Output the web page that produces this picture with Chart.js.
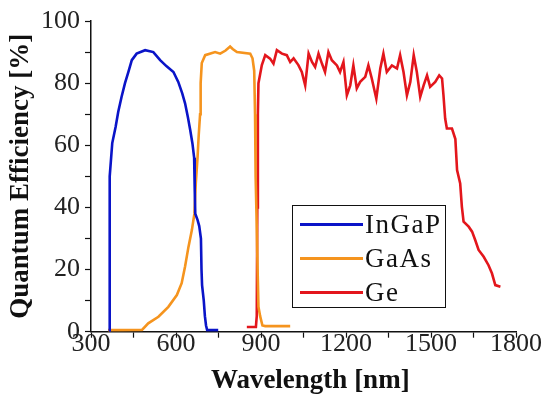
<!DOCTYPE html>
<html>
<head>
<meta charset="utf-8">
<script src="https://cdn.jsdelivr.net/npm/chart.js@4/dist/chart.umd.min.js"></script>
<style>
  html, body { margin: 0; padding: 0; background: #fff; }
  #wrap { position: relative; width: 543px; height: 395px; }
  #legend {
    position: absolute; left: 292px; top: 205px; width: 152px; height: 101px;
    border: 1.5px solid #111; background: #fff; box-sizing: content-box;
    font-family: "Liberation Serif", "Times New Roman", serif; font-size: 27px; color: #111;
    letter-spacing: 1.5px;
  }
  .row { position: absolute; left: 0; height: 34px; display: flex; align-items: center; }
  .sw { width: 63px; height: 3px; margin-left: 7px; margin-right: 2px; }
</style>
</head>
<body>
<div id="wrap">
  <canvas id="c" width="543" height="395"></canvas>
  <div id="legend"></div>
</div>
<script>
// Tick settings
const xTickLabels = [300, 600, 900, 1200, 1500, 1800];
const yTickLabels = [0, 20, 40, 60, 80, 100];

// Series names
const seriesNames = ["InGaP", "GaAs", "Ge"];

// InGaP
const ingapWl = [364, 365, 367, 375, 387, 396, 408, 420, 432, 444, 461, 491, 520, 544, 567, 591, 608, 622, 632, 642, 650, 658, 664, 666, 668, 676, 682, 688, 690, 692, 698, 702, 706, 710, 749];
const ingapQE = [0.3, 40, 50, 60.7, 66, 70.7, 75.6, 80, 83.6, 87.4, 89.5, 90.6, 90, 87.4, 85.4, 83.6, 80.4, 76.7, 73.5, 69, 65, 60.6, 56, 46, 38, 36, 34, 30, 20, 15, 10, 5, 2, 0.5, 0.5];

// GaAs
const gaasWl = [360, 400, 480, 502, 538, 573, 603, 620, 632, 644, 656, 665, 670, 676, 680, 685, 687, 691, 703, 738, 756, 775, 791, 800, 815, 862, 870, 876, 879, 881, 884, 888, 891, 897, 905, 915, 1003];
const gaasQE = [0.5, 0.5, 0.6, 2.7, 4.8, 8, 11.8, 15.6, 21, 27.3, 32.7, 38, 48, 56, 63, 70, 80, 86.5, 89, 90, 89.5, 90.5, 91.8, 91, 90, 89.5, 88, 84, 70, 50, 38, 20, 8, 5, 2, 1.8, 1.8];

// Ge
const geWl = [850, 882, 885, 887, 889, 891, 903, 915, 932, 944, 956, 974, 991, 1003, 1015, 1032, 1044, 1056, 1068, 1080, 1091, 1103, 1115, 1126, 1138, 1150, 1168, 1179, 1191, 1203, 1215, 1226, 1238, 1250, 1268, 1279, 1291, 1307, 1321, 1332, 1344, 1362, 1380, 1391, 1403, 1415, 1427, 1439, 1450, 1462, 1474, 1486, 1497, 1515, 1529, 1539, 1544, 1550, 1556, 1574, 1586, 1592, 1603, 1609, 1615, 1633, 1645, 1656, 1668, 1686, 1703, 1715, 1727, 1745];
const geQE = [1.5, 1.5, 5, 40, 70, 80, 85.8, 89, 87.9, 86.3, 90.6, 89.5, 89, 86.8, 88, 85.8, 83.6, 79.3, 89.5, 86.8, 85.2, 89.5, 86.3, 83.6, 90, 87.4, 85.7, 83.6, 86.8, 76.1, 79.3, 85.7, 78.3, 80.4, 82, 85.7, 81.5, 75, 84.7, 89.5, 83.6, 85.7, 84.7, 89, 83.6, 76.1, 80.4, 89, 83.6, 75.6, 79.3, 82.5, 78.8, 80.4, 82.5, 81.5, 76.1, 68.6, 65.4, 65.4, 62, 52, 47.7, 40.2, 35.4, 33.8, 32.2, 29.5, 26.3, 24.1, 21.4, 18.8, 15, 14.5];

const colors = ["#0a14c8", "#f5941e", "#e3161c"];

function zip(xs, ys) { return xs.map((x, i) => ({ x: x, y: ys[i] })); }

const datasets = [
  { label: seriesNames[0], data: zip(ingapWl, ingapQE) },
  { label: seriesNames[1], data: zip(gaasWl, gaasQE) },
  { label: seriesNames[2], data: zip(geWl, geQE) }
].map((d, i) => Object.assign(d, {
  borderColor: colors[i], backgroundColor: colors[i], borderWidth: 2.6,
  pointRadius: 0, tension: 0, fill: false
}));

const serif = "'Liberation Serif', 'Times New Roman', serif";
const tickFont = { family: serif, size: 26, lineHeight: 0.5 };
const titleFont = { family: serif, size: 27, weight: 'bold', lineHeight: 1 };

const chart = new Chart(document.getElementById('c'), {
  type: 'line',
  data: { datasets: datasets },
  options: {
    responsive: false,
    animation: false,
    layout: { padding: { left: 0, right: 27, top: 21, bottom: 0 } },
    plugins: { legend: { display: false }, tooltip: { enabled: false } },
    scales: {
      x: {
        type: 'linear', min: 300, max: 1800,
        afterFit: (s) => { s.height = 63.3; },
        border: { display: true, color: '#111', width: 1.5 },
        grid: { drawOnChartArea: false, drawTicks: true, tickLength: 6, tickColor: '#111', tickWidth: 1.2 },
        ticks: {
          stepSize: 150, autoSkip: false, maxRotation: 0, padding: 0, color: '#222', font: tickFont,
          callback: (v) => xTickLabels.includes(v) ? String(v) : ''
        },
        title: { display: true, text: '\u2002Wavelength [nm]', color: '#111', font: titleFont, padding: { top: 0, bottom: 0.5 } }
      },
      y: {
        type: 'linear', min: 0, max: 100,
        afterFit: (s) => { s.width = 91; },
        border: { display: true, color: '#111', width: 1.5 },
        grid: { drawOnChartArea: false, drawTicks: true, tickLength: 6, tickColor: '#111', tickWidth: 1.2 },
        ticks: {
          stepSize: 10, autoSkip: false, padding: 5, color: '#222', font: { family: serif, size: 26 },
          callback: (v) => yTickLabels.includes(v) ? String(v) : ''
        },
        title: { display: true, text: 'Quantum Efficiency [%]', color: '#111', font: titleFont, padding: { top: 8, bottom: 0 } }
      }
    }
  }
});

// HTML legend built from the chart's datasets
const leg = document.getElementById('legend');
chart.data.datasets.forEach((ds, i) => {
  const row = document.createElement('div');
  row.className = 'row';
  row.style.top = (1 + i * 34) + 'px';
  const sw = document.createElement('span');
  sw.className = 'sw';
  sw.style.background = ds.borderColor;
  const t = document.createElement('span');
  t.textContent = ds.label;
  row.appendChild(sw); row.appendChild(t);
  leg.appendChild(row);
});
</script>
</body>
</html>
